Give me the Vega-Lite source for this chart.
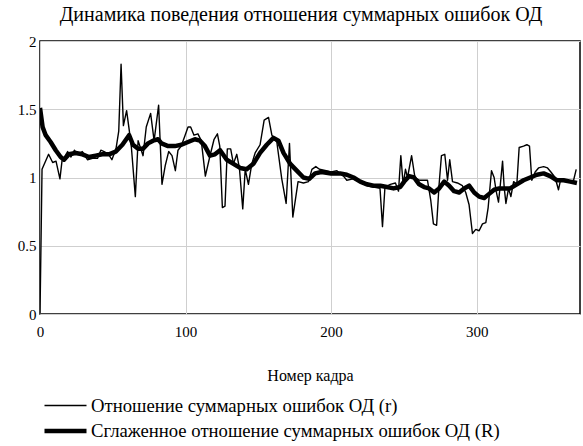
{
  "$schema": "https://vega.github.io/schema/vega-lite/v6.json",
  "autosize": {"type": "none"},
  "width": 540,
  "height": 273,
  "padding": {"left": 40, "top": 41, "right": 3, "bottom": 132},
  "background": "white",
  "config": {
    "font": "Liberation Serif",
    "view": {"stroke": "black", "strokeWidth": 1.5},
    "axis": {"labelFont": "Liberation Serif", "titleFont": "Liberation Serif", "labelColor": "black", "titleColor": "black", "titleFontWeight": "normal"},
    "legend": {"labelFont": "Liberation Serif"}
  },
  "title": {"text": "Динамика поведения отношения суммарных ошибок ОД", "font": "Liberation Serif", "fontSize": 20, "fontWeight": "normal", "color": "black", "anchor": "middle", "dx": -9, "offset": 9},
  "data": {"values": [
    {"frame": 0, "value": 1.51, "series": "R"},
    {"frame": 1.8, "value": 1.37, "series": "R"},
    {"frame": 3.9, "value": 1.31, "series": "R"},
    {"frame": 7.3, "value": 1.26, "series": "R"},
    {"frame": 10.8, "value": 1.2, "series": "R"},
    {"frame": 14.2, "value": 1.15, "series": "R"},
    {"frame": 16.5, "value": 1.13, "series": "R"},
    {"frame": 19.9, "value": 1.17, "series": "R"},
    {"frame": 24.5, "value": 1.18, "series": "R"},
    {"frame": 29.1, "value": 1.17, "series": "R"},
    {"frame": 33.7, "value": 1.15, "series": "R"},
    {"frame": 38.3, "value": 1.16, "series": "R"},
    {"frame": 42.8, "value": 1.17, "series": "R"},
    {"frame": 47.4, "value": 1.17, "series": "R"},
    {"frame": 52, "value": 1.19, "series": "R"},
    {"frame": 56.6, "value": 1.24, "series": "R"},
    {"frame": 61.2, "value": 1.31, "series": "R"},
    {"frame": 63.9, "value": 1.24, "series": "R"},
    {"frame": 67.4, "value": 1.21, "series": "R"},
    {"frame": 70.8, "value": 1.21, "series": "R"},
    {"frame": 74.2, "value": 1.25, "series": "R"},
    {"frame": 77.7, "value": 1.27, "series": "R"},
    {"frame": 81.1, "value": 1.28, "series": "R"},
    {"frame": 83.5, "value": 1.25, "series": "R"},
    {"frame": 88, "value": 1.23, "series": "R"},
    {"frame": 92.6, "value": 1.23, "series": "R"},
    {"frame": 97.2, "value": 1.24, "series": "R"},
    {"frame": 101.7, "value": 1.26, "series": "R"},
    {"frame": 106.4, "value": 1.28, "series": "R"},
    {"frame": 109.9, "value": 1.27, "series": "R"},
    {"frame": 113.3, "value": 1.23, "series": "R"},
    {"frame": 116.8, "value": 1.16, "series": "R"},
    {"frame": 120.2, "value": 1.17, "series": "R"},
    {"frame": 123.7, "value": 1.2, "series": "R"},
    {"frame": 128.3, "value": 1.13, "series": "R"},
    {"frame": 132.9, "value": 1.1, "series": "R"},
    {"frame": 137.5, "value": 1.07, "series": "R"},
    {"frame": 142, "value": 1.06, "series": "R"},
    {"frame": 146.6, "value": 1.1, "series": "R"},
    {"frame": 151.2, "value": 1.18, "series": "R"},
    {"frame": 155.8, "value": 1.24, "series": "R"},
    {"frame": 160.4, "value": 1.29, "series": "R"},
    {"frame": 163.8, "value": 1.27, "series": "R"},
    {"frame": 167.3, "value": 1.18, "series": "R"},
    {"frame": 171.9, "value": 1.1, "series": "R"},
    {"frame": 176.4, "value": 1.05, "series": "R"},
    {"frame": 181, "value": 1.0, "series": "R"},
    {"frame": 185, "value": 0.99, "series": "R"},
    {"frame": 189, "value": 1.03, "series": "R"},
    {"frame": 193.4, "value": 1.04, "series": "R"},
    {"frame": 200, "value": 1.03, "series": "R"},
    {"frame": 206.2, "value": 1.03, "series": "R"},
    {"frame": 210.8, "value": 1.02, "series": "R"},
    {"frame": 215.4, "value": 1.0, "series": "R"},
    {"frame": 220, "value": 0.97, "series": "R"},
    {"frame": 224.6, "value": 0.95, "series": "R"},
    {"frame": 229.2, "value": 0.94, "series": "R"},
    {"frame": 233.8, "value": 0.94, "series": "R"},
    {"frame": 238.3, "value": 0.93, "series": "R"},
    {"frame": 242.9, "value": 0.92, "series": "R"},
    {"frame": 247.5, "value": 0.93, "series": "R"},
    {"frame": 250.2, "value": 0.97, "series": "R"},
    {"frame": 253.6, "value": 1.01, "series": "R"},
    {"frame": 257, "value": 1.0, "series": "R"},
    {"frame": 260.5, "value": 0.95, "series": "R"},
    {"frame": 263.9, "value": 0.93, "series": "R"},
    {"frame": 267.3, "value": 0.92, "series": "R"},
    {"frame": 270.8, "value": 0.89, "series": "R"},
    {"frame": 274.2, "value": 0.92, "series": "R"},
    {"frame": 277.7, "value": 0.97, "series": "R"},
    {"frame": 281.1, "value": 0.94, "series": "R"},
    {"frame": 284.5, "value": 0.9, "series": "R"},
    {"frame": 288, "value": 0.89, "series": "R"},
    {"frame": 291.4, "value": 0.92, "series": "R"},
    {"frame": 294.8, "value": 0.94, "series": "R"},
    {"frame": 298.3, "value": 0.89, "series": "R"},
    {"frame": 301.7, "value": 0.86, "series": "R"},
    {"frame": 305.2, "value": 0.85, "series": "R"},
    {"frame": 308.6, "value": 0.88, "series": "R"},
    {"frame": 312, "value": 0.91, "series": "R"},
    {"frame": 315.5, "value": 0.92, "series": "R"},
    {"frame": 318.4, "value": 0.92, "series": "R"},
    {"frame": 323, "value": 0.92, "series": "R"},
    {"frame": 327.6, "value": 0.95, "series": "R"},
    {"frame": 332.2, "value": 0.98, "series": "R"},
    {"frame": 336.8, "value": 1.0, "series": "R"},
    {"frame": 341.4, "value": 1.02, "series": "R"},
    {"frame": 346, "value": 1.03, "series": "R"},
    {"frame": 350.5, "value": 1.01, "series": "R"},
    {"frame": 355.1, "value": 0.98, "series": "R"},
    {"frame": 359.7, "value": 0.98, "series": "R"},
    {"frame": 364.3, "value": 0.97, "series": "R"},
    {"frame": 368.9, "value": 0.96, "series": "R"},
    {"frame": 0, "value": 0, "series": "r"},
    {"frame": 1.4, "value": 1.06, "series": "r"},
    {"frame": 5.9, "value": 1.17, "series": "r"},
    {"frame": 8.7, "value": 1.11, "series": "r"},
    {"frame": 11, "value": 1.12, "series": "r"},
    {"frame": 13.7, "value": 0.99, "series": "r"},
    {"frame": 15.1, "value": 1.12, "series": "r"},
    {"frame": 19, "value": 1.19, "series": "r"},
    {"frame": 21.3, "value": 1.15, "series": "r"},
    {"frame": 23.6, "value": 1.2, "series": "r"},
    {"frame": 25.9, "value": 1.17, "series": "r"},
    {"frame": 29.1, "value": 1.19, "series": "r"},
    {"frame": 32.6, "value": 1.13, "series": "r"},
    {"frame": 36.1, "value": 1.14, "series": "r"},
    {"frame": 39.5, "value": 1.14, "series": "r"},
    {"frame": 41.8, "value": 1.2, "series": "r"},
    {"frame": 44.1, "value": 1.19, "series": "r"},
    {"frame": 47.1, "value": 1.17, "series": "r"},
    {"frame": 49.4, "value": 1.13, "series": "r"},
    {"frame": 52.2, "value": 1.21, "series": "r"},
    {"frame": 54.1, "value": 1.34, "series": "r"},
    {"frame": 55.7, "value": 1.83, "series": "r"},
    {"frame": 57.3, "value": 1.38, "series": "r"},
    {"frame": 59.5, "value": 1.49, "series": "r"},
    {"frame": 61.4, "value": 1.34, "series": "r"},
    {"frame": 62.8, "value": 1.22, "series": "r"},
    {"frame": 65.5, "value": 0.86, "series": "r"},
    {"frame": 67.4, "value": 1.27, "series": "r"},
    {"frame": 70.8, "value": 1.16, "series": "r"},
    {"frame": 73, "value": 1.37, "series": "r"},
    {"frame": 76, "value": 1.47, "series": "r"},
    {"frame": 78.4, "value": 1.27, "series": "r"},
    {"frame": 81.5, "value": 1.53, "series": "r"},
    {"frame": 83.8, "value": 0.95, "series": "r"},
    {"frame": 86.1, "value": 1.09, "series": "r"},
    {"frame": 88.4, "value": 1.19, "series": "r"},
    {"frame": 90.7, "value": 1.16, "series": "r"},
    {"frame": 93, "value": 1.05, "series": "r"},
    {"frame": 94.8, "value": 1.2, "series": "r"},
    {"frame": 97, "value": 1.23, "series": "r"},
    {"frame": 99.4, "value": 1.3, "series": "r"},
    {"frame": 101.7, "value": 1.37, "series": "r"},
    {"frame": 103.5, "value": 1.37, "series": "r"},
    {"frame": 105.8, "value": 1.31, "series": "r"},
    {"frame": 108.5, "value": 1.32, "series": "r"},
    {"frame": 110.8, "value": 1.27, "series": "r"},
    {"frame": 113.6, "value": 1.01, "series": "r"},
    {"frame": 116.6, "value": 1.15, "series": "r"},
    {"frame": 119.6, "value": 1.28, "series": "r"},
    {"frame": 121.9, "value": 1.32, "series": "r"},
    {"frame": 123.5, "value": 1.23, "series": "r"},
    {"frame": 125.3, "value": 0.78, "series": "r"},
    {"frame": 127.1, "value": 0.79, "series": "r"},
    {"frame": 128.7, "value": 1.21, "series": "r"},
    {"frame": 131, "value": 1.21, "series": "r"},
    {"frame": 132.9, "value": 1.1, "series": "r"},
    {"frame": 135.2, "value": 1.17, "series": "r"},
    {"frame": 137, "value": 1.07, "series": "r"},
    {"frame": 139.3, "value": 0.77, "series": "r"},
    {"frame": 141, "value": 1.06, "series": "r"},
    {"frame": 143.2, "value": 0.95, "series": "r"},
    {"frame": 145.5, "value": 1.1, "series": "r"},
    {"frame": 147.8, "value": 1.18, "series": "r"},
    {"frame": 151.2, "value": 1.24, "series": "r"},
    {"frame": 154, "value": 1.42, "series": "r"},
    {"frame": 157, "value": 1.44, "series": "r"},
    {"frame": 159.3, "value": 1.31, "series": "r"},
    {"frame": 162.7, "value": 1.26, "series": "r"},
    {"frame": 166.1, "value": 0.99, "series": "r"},
    {"frame": 169.1, "value": 0.81, "series": "r"},
    {"frame": 171.4, "value": 1.25, "series": "r"},
    {"frame": 173.7, "value": 0.71, "series": "r"},
    {"frame": 177.3, "value": 0.97, "series": "r"},
    {"frame": 181, "value": 0.96, "series": "r"},
    {"frame": 184.5, "value": 0.97, "series": "r"},
    {"frame": 186.8, "value": 1.06, "series": "r"},
    {"frame": 189.5, "value": 1.08, "series": "r"},
    {"frame": 192, "value": 1.06, "series": "r"},
    {"frame": 196.6, "value": 1.05, "series": "r"},
    {"frame": 200, "value": 1.04, "series": "r"},
    {"frame": 204, "value": 1.05, "series": "r"},
    {"frame": 208.5, "value": 1.01, "series": "r"},
    {"frame": 210.8, "value": 0.98, "series": "r"},
    {"frame": 215, "value": 0.99, "series": "r"},
    {"frame": 220, "value": 0.97, "series": "r"},
    {"frame": 224.6, "value": 0.94, "series": "r"},
    {"frame": 229.2, "value": 0.93, "series": "r"},
    {"frame": 233.6, "value": 0.92, "series": "r"},
    {"frame": 235.3, "value": 0.64, "series": "r"},
    {"frame": 237, "value": 0.93, "series": "r"},
    {"frame": 240.7, "value": 0.95, "series": "r"},
    {"frame": 244.2, "value": 0.96, "series": "r"},
    {"frame": 246.3, "value": 0.9, "series": "r"},
    {"frame": 247.9, "value": 1.16, "series": "r"},
    {"frame": 249.5, "value": 0.95, "series": "r"},
    {"frame": 251.1, "value": 1.06, "series": "r"},
    {"frame": 252.5, "value": 1.0, "series": "r"},
    {"frame": 255.3, "value": 1.16, "series": "r"},
    {"frame": 257.6, "value": 1.0, "series": "r"},
    {"frame": 260.8, "value": 0.98, "series": "r"},
    {"frame": 266.2, "value": 0.98, "series": "r"},
    {"frame": 268.5, "value": 0.83, "series": "r"},
    {"frame": 270.3, "value": 0.66, "series": "r"},
    {"frame": 272.5, "value": 0.65, "series": "r"},
    {"frame": 274.2, "value": 0.95, "series": "r"},
    {"frame": 275.8, "value": 1.16, "series": "r"},
    {"frame": 278.1, "value": 1.17, "series": "r"},
    {"frame": 280, "value": 0.98, "series": "r"},
    {"frame": 281.5, "value": 1.13, "series": "r"},
    {"frame": 283.4, "value": 0.97, "series": "r"},
    {"frame": 286.8, "value": 0.96, "series": "r"},
    {"frame": 290.2, "value": 0.94, "series": "r"},
    {"frame": 292.5, "value": 0.89, "series": "r"},
    {"frame": 294.8, "value": 0.8, "series": "r"},
    {"frame": 297.1, "value": 0.59, "series": "r"},
    {"frame": 299.4, "value": 0.62, "series": "r"},
    {"frame": 301.7, "value": 0.61, "series": "r"},
    {"frame": 304, "value": 0.66, "series": "r"},
    {"frame": 306.3, "value": 0.67, "series": "r"},
    {"frame": 307.9, "value": 0.78, "series": "r"},
    {"frame": 310.2, "value": 1.05, "series": "r"},
    {"frame": 312, "value": 1.0, "series": "r"},
    {"frame": 313.4, "value": 0.9, "series": "r"},
    {"frame": 315, "value": 0.82, "series": "r"},
    {"frame": 316.2, "value": 0.94, "series": "r"},
    {"frame": 317.8, "value": 1.12, "series": "r"},
    {"frame": 318.9, "value": 0.93, "series": "r"},
    {"frame": 320.1, "value": 0.81, "series": "r"},
    {"frame": 321.9, "value": 0.92, "series": "r"},
    {"frame": 323.5, "value": 0.86, "series": "r"},
    {"frame": 325.4, "value": 0.97, "series": "r"},
    {"frame": 327.6, "value": 0.95, "series": "r"},
    {"frame": 329.2, "value": 1.22, "series": "r"},
    {"frame": 332.2, "value": 1.23, "series": "r"},
    {"frame": 334.5, "value": 1.24, "series": "r"},
    {"frame": 336.3, "value": 1.23, "series": "r"},
    {"frame": 337.9, "value": 0.98, "series": "r"},
    {"frame": 340.2, "value": 1.04, "series": "r"},
    {"frame": 342.5, "value": 1.07, "series": "r"},
    {"frame": 346, "value": 1.08, "series": "r"},
    {"frame": 348.7, "value": 1.07, "series": "r"},
    {"frame": 351, "value": 1.04, "series": "r"},
    {"frame": 353.9, "value": 1.0, "series": "r"},
    {"frame": 356.2, "value": 0.91, "series": "r"},
    {"frame": 357.8, "value": 0.99, "series": "r"},
    {"frame": 360.8, "value": 0.98, "series": "r"},
    {"frame": 364.3, "value": 0.97, "series": "r"},
    {"frame": 366.6, "value": 0.98, "series": "r"},
    {"frame": 368.4, "value": 1.06, "series": "r"}
  ]},
  "mark": {"type": "line", "color": "black", "strokeJoin": "round", "clip": true},
  "encoding": {
    "x": {"field": "frame", "type": "quantitative", "title": "Номер кадра",
      "scale": {"domain": [0, 371], "nice": false, "zero": false},
      "axis": {"values": [0, 100, 200, 300], "format": "d", "domain": false, "ticks": false, "labelFont": "Liberation Serif", "labelFontSize": 15, "labelPadding": 10, "titleFont": "Liberation Serif", "titleFontSize": 16, "titlePadding": 28, "gridColor": "#cfcfcf", "gridWidth": 1, "labelFlush": false}},
    "y": {"field": "value", "type": "quantitative", "title": null,
      "scale": {"domain": [0, 2], "nice": false},
      "axis": {"values": [0, 0.5, 1, 1.5, 2], "format": "~g", "domain": false, "ticks": false, "labelFont": "Liberation Serif", "labelFontSize": 15, "labelPadding": 4, "gridColor": "#cfcfcf", "gridWidth": 1}},
    "strokeWidth": {"field": "series", "type": "nominal",
      "scale": {"domain": ["r", "R"], "range": [1.4, 4.5]},
      "legend": {"orient": "none", "legendX": 12.5, "legendY": 353, "title": null, "symbolType": "M-2,0H2", "symbolSize": 441, "symbolStrokeColor": "black", "labelFont": "Liberation Serif", "labelFontSize": 18.7, "labelColor": "black", "labelOffset": 12.5, "labelLimit": 0, "rowPadding": 2,
        "labelExpr": "datum.label == 'r' ? 'Отношение суммарных ошибок ОД (r)' : 'Сглаженное отношение суммарных ошибок ОД (R)'"}},
    "order": {"field": "frame", "type": "quantitative"}
  }
}
